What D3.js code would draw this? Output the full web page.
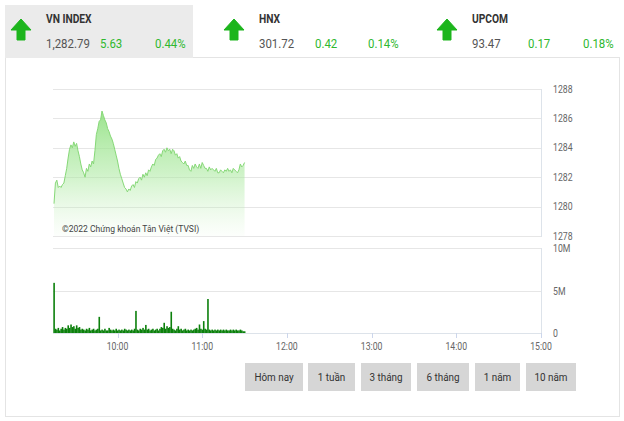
<!DOCTYPE html>
<html><head><meta charset="utf-8">
<script src="https://cdn.jsdelivr.net/npm/d3@7"></script>
<style>
body{margin:0;background:#fff;}
svg{display:block;font-family:Roboto,"Liberation Sans",sans-serif;}
</style></head>
<body><svg id="c" width="624" height="421"></svg>
<script>
// ---- data ----
const indexNames = ["VN INDEX", "HNX", "UPCOM"];
const indexValues = ["1,282.79", "301.72", "93.47"];
const indexChanges = ["5.63", "0.42", "0.17"];
const indexPercents = ["0.44%", "0.14%", "0.18%"];

const startTime = "09:15";
// VN-Index, one value per minute from 09:15
const priceValues = [
 1280.2,1281.6,1281.8,1281.3,1281.4,1281.3,1281.5,1281.6,1282.1,1282.6,
 1283.3,1283.9,1284.2,1284.0,1284.4,1284.1,1284.3,1283.8,1283.4,1282.9,
 1282.5,1282.3,1282.0,1282.6,1282.4,1282.9,1282.7,1283.1,1282.9,1283.8,
 1284.9,1285.3,1285.8,1285.9,1286.5,1286.2,1285.9,1285.7,1285.3,1285.1,
 1284.8,1284.6,1284.3,1283.9,1283.5,1283.1,1282.6,1282.2,1281.9,1281.6,
 1281.3,1281.2,1281.0,1281.2,1281.1,1281.4,1281.5,1281.3,1281.7,1281.6,
 1281.9,1282.0,1281.8,1282.2,1282.0,1282.3,1282.1,1282.5,1282.4,1282.7,
 1282.9,1282.8,1283.2,1283.3,1283.5,1283.6,1283.4,1283.8,1283.9,1283.7,
 1284.0,1283.8,1283.9,1283.6,1283.9,1283.8,1283.5,1283.6,1283.3,1283.4,
 1283.1,1283.0,1282.9,1283.1,1282.8,1282.8,1282.5,1282.4,1282.8,1282.6,
 1282.9,1282.7,1282.6,1282.9,1282.6,1283.0,1282.8,1282.6,1282.6,1282.4,
 1282.7,1282.5,1282.6,1282.5,1282.4,1282.6,1282.3,1282.3,1282.5,1282.4,
 1282.3,1282.5,1282.4,1282.6,1282.4,1282.5,1282.3,1282.6,1282.5,1282.4,
 1282.3,1282.5,1282.9,1282.7,1282.8,1283.0
];
// matched volume per minute, millions
const volumeValues = [
 5.9,0.5,0.4,0.6,0.3,0.5,0.7,0.4,0.6,0.5,
 0.9,0.6,1.0,0.7,0.8,0.5,0.9,0.6,0.7,0.4,
 0.5,0.4,0.3,0.5,0.4,0.6,0.3,0.4,0.5,0.3,
 0.4,0.5,1.9,0.3,0.4,0.3,0.5,0.3,0.3,0.6,
 0.4,0.3,0.4,0.3,0.5,0.3,0.4,0.3,0.4,0.3,
 0.5,0.4,0.3,0.4,0.3,0.4,0.3,0.5,2.6,0.4,
 0.3,0.5,0.4,0.6,0.4,0.95,0.4,0.5,0.3,0.4,
 0.5,0.3,0.4,0.5,0.3,0.5,0.7,0.6,1.2,0.5,
 0.8,0.6,0.7,2.5,0.5,0.4,0.3,0.5,0.8,0.4,
 0.5,0.3,0.4,0.5,0.3,0.4,0.3,0.4,0.3,0.4,
 0.5,0.6,0.4,1.0,0.5,0.4,1.4,0.5,0.4,4.0,
 0.4,0.3,0.4,0.3,0.4,0.3,0.4,0.3,0.4,0.3,
 0.4,0.3,0.4,0.3,0.3,0.4,0.3,0.4,0.3,0.4,
 0.3,0.3,0.4,0.3,0.2,0.2
];
const priceTicks = [1278,1280,1282,1284,1286,1288];
const volumeTicks = [0,5,10];
const volumeTickLabels = ["0","5M","10M"];
const timeTicks = ["10:00","11:00","12:00","13:00","14:00","15:00"];
const buttonLabels = ["Hôm nay","1 tuần","3 tháng","6 tháng","1 năm","10 năm"];
const copyright = "©2022 Chứng khoán Tân Việt (TVSI)";

// ---- drawing ----
const svg = d3.select("#c");
const parse = d3.timeParse("%H:%M");
const t0 = parse(startTime);
const priceData = priceValues.map((v,i)=>({t:d3.timeMinute.offset(t0,i), v}));
const volData = volumeValues.map((v,i)=>({t:d3.timeMinute.offset(t0,i), v}));

// condensed-looking text helper
function ctext(parent, x, y, str, size, sx, fill, anchor, weight){
  return parent.append("text")
    .attr("transform",`translate(${x},${y}) scale(${sx},1)`)
    .attr("font-size",size).attr("fill",fill)
    .attr("text-anchor",anchor||"start").attr("font-weight",weight||"normal")
    .text(str);
}

svg.append("rect").attr("width",624).attr("height",421).attr("fill","#fff");

// tabs
svg.append("rect").attr("x",5).attr("y",5).attr("width",188).attr("height",52).attr("fill","#ebebeb");
// panel border
svg.append("rect").attr("x",5.5).attr("y",57.5).attr("width",614).attr("height",359)
  .attr("fill","none").attr("stroke","#e4e4e4");
svg.append("line").attr("x1",5).attr("x2",193).attr("y1",57.5).attr("y2",57.5).attr("stroke","#ebebeb");

const tabX = [10, 223, 436];
const green = "#1db51d";
indexNames.forEach((n,i)=>{
  const g = svg.append("g").attr("transform",`translate(${tabX[i]},0)`);
  g.append("path").attr("d","M11 19 L21 30 L15 30 L15 40 L7 40 L7 30 L1 30 Z")
    .attr("fill",green).attr("stroke",green).attr("stroke-width",1).attr("stroke-linejoin","round");
  ctext(g,36,23,n,12.5,0.82,"#333","start","bold");
  ctext(g,36,48,indexValues[i],13,0.88,"#555");
  ctext(g,i==0?90:92,48,indexChanges[i],13,0.88,"#2fb82f");
  ctext(g,i==2?147:145,48,indexPercents[i],13,0.88,"#2fb82f");
});

// scales
const x = d3.scaleTime().domain([parse("09:15"), parse("15:00")]).range([54,541]);
const yP = d3.scaleLinear().domain([1278,1288]).range([236,89]);
const yV = d3.scaleLinear().domain([0,10]).range([333,248]);

// price grid
svg.append("g").selectAll("line").data(priceTicks).join("line")
  .attr("x1",53).attr("x2",541).attr("y1",d=>Math.round(yP(d))+0.5).attr("y2",d=>Math.round(yP(d))+0.5)
  .attr("stroke","#e6e6e6");
svg.append("line").attr("x1",541.5).attr("x2",541.5).attr("y1",89).attr("y2",237).attr("stroke","#dde3ea");
const pl = svg.append("g");
priceTicks.forEach(d=>ctext(pl,553,yP(d)+3.5,d,10,0.87,"#666"));

// area gradient
const defs = svg.append("defs");
const grad = defs.append("linearGradient").attr("id","ag")
  .attr("gradientUnits","userSpaceOnUse").attr("x1",0).attr("y1",110).attr("x2",0).attr("y2",236);
grad.append("stop").attr("offset",0).attr("stop-color","#8fe07f").attr("stop-opacity",0.9);
grad.append("stop").attr("offset",0.5).attr("stop-color","#a6e89a").attr("stop-opacity",0.55);
grad.append("stop").attr("offset",1).attr("stop-color","#c8f0c0").attr("stop-opacity",0.05);

svg.append("path").datum(priceData)
  .attr("d",d3.area().x(d=>x(d.t)).y0(yP(1278)).y1(d=>yP(d.v)))
  .attr("fill","url(#ag)");
svg.append("path").datum(priceData)
  .attr("d",d3.line().x(d=>x(d.t)).y(d=>yP(d.v)))
  .attr("fill","none").attr("stroke","#86d877").attr("stroke-width",1);

ctext(svg,62,232,copyright,9.5,0.9,"#444");

// volume grid
svg.append("g").selectAll("line").data(volumeTicks).join("line")
  .attr("x1",53).attr("x2",541).attr("y1",d=>Math.round(yV(d))+0.5).attr("y2",d=>Math.round(yV(d))+0.5)
  .attr("stroke",d=>d==0?"#dde3ea":"#e6e6e6");
svg.append("line").attr("x1",541.5).attr("x2",541.5).attr("y1",248).attr("y2",334).attr("stroke","#dde3ea");
const vl = svg.append("g");
volumeTicks.forEach((d,i)=>ctext(vl,553,yV(d)+4,volumeTickLabels[i],10,0.87,"#666"));

// volume bars
svg.append("g").selectAll("rect").data(volData).join("rect")
  .attr("x",d=>x(d.t)-0.7).attr("width",1.6)
  .attr("y",d=>yV(d.v)).attr("height",d=>yV(0)-yV(d.v))
  .attr("fill","#0c800c");

// time axis
const xAxis = svg.append("g").attr("transform","translate(0,333)");
xAxis.selectAll("line").data(timeTicks).join("line")
  .attr("x1",d=>Math.round(x(parse(d)))+0.5).attr("x2",d=>Math.round(x(parse(d)))+0.5)
  .attr("y1",0).attr("y2",5).attr("stroke","#ccd6eb");
timeTicks.forEach(d=>ctext(xAxis,x(parse(d)),17,d,10,0.87,"#666","middle"));

// buttons
const btnX = [245,308,361,417,475,526];
const btnW = [58,47,50,52,45,50];
buttonLabels.forEach((b,i)=>{
  svg.append("rect").attr("x",btnX[i]).attr("y",363).attr("width",btnW[i]).attr("height",28).attr("fill","#d6d6d6");
  ctext(svg,btnX[i]+btnW[i]/2,381,b,11.5,0.86,"#333","middle");
});
</script></body></html>
